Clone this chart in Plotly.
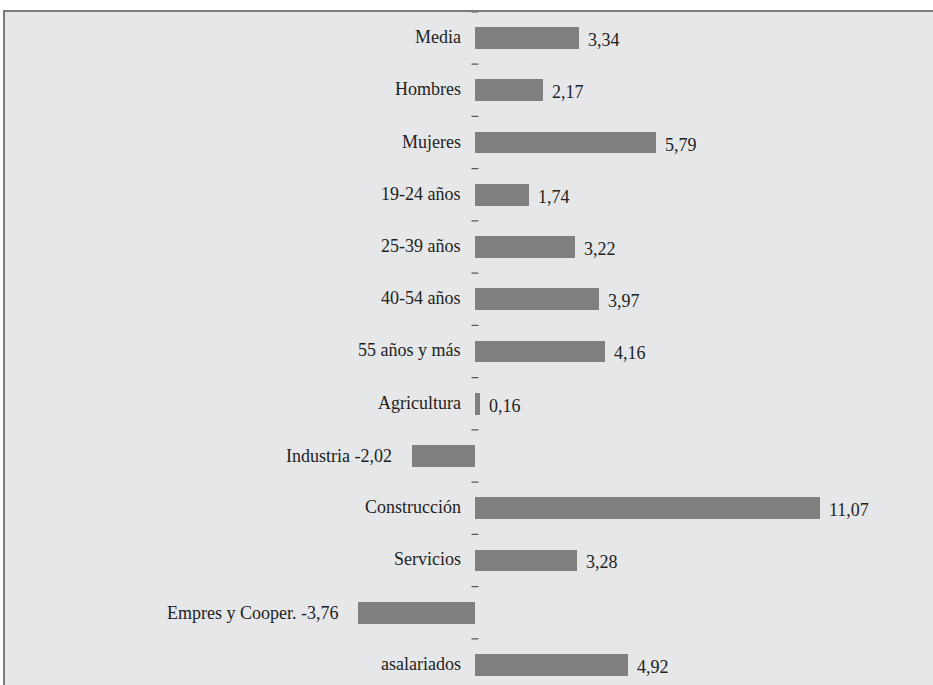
import plotly.graph_objects as go

categories = ["Media", "Hombres", "Mujeres", "19-24 años", "25-39 años", "40-54 años",
              "55 años y más", "Agricultura", "Industria", "Construcción", "Servicios",
              "Empres y Cooper.", "asalariados"]
values = [3.34, 2.17, 5.79, 1.74, 3.22, 3.97, 4.16, 0.16, -2.02, 11.07, 3.28, -3.76, 4.92]

def fmt(v):
    return f"{v:.2f}".replace(".", ",")

pos = list(range(len(categories)))
BAR = "#808080"
FONT = "Liberation Serif"
FS = 18

fig = go.Figure()
fig.add_trace(go.Bar(x=values, y=pos, orientation="h", width=0.42,
                     marker=dict(color=BAR, line=dict(width=0)), hoverinfo="skip"))
# small separator dashes between categories
mids = [p - 0.5 for p in pos]
fig.add_trace(go.Scatter(x=[0] * len(mids), y=mids, mode="markers",
                         marker=dict(symbol="line-ew", size=5,
                                     line=dict(color="#555555", width=1.2)),
                         hoverinfo="skip"))

annots = []
for p, c, v in zip(pos, categories, values):
    f = dict(family=FONT, size=FS, color="#222")
    if v >= 0:
        annots.append(dict(x=0, y=p, text=c, xanchor="right", xshift=-12, yshift=1,
                           showarrow=False, font=f))
        annots.append(dict(x=v, y=p, text=fmt(v), xanchor="left", xshift=7, yshift=-2,
                           showarrow=False, font=f))
    else:
        annots.append(dict(x=v, y=p, text=f"{c}&nbsp;{fmt(v)}", xanchor="right", xshift=-18,
                           showarrow=False, font=f))

fig.update_layout(
    width=933, height=685,
    margin=dict(l=5, r=0, t=12, b=0),
    paper_bgcolor="white", plot_bgcolor="#e6e7e9",
    showlegend=False, bargap=0,
    annotations=annots,
    xaxis=dict(range=[-15.06, 14.68], showgrid=False, zeroline=False,
               showticklabels=False, ticks="", side="top",
               showline=True, linecolor="#7a7a7a", linewidth=2),
    yaxis=dict(range=[12.383, -0.4976], showgrid=False, zeroline=False,
               showticklabels=False, ticks="",
               showline=True, linecolor="#7a7a7a", linewidth=1.5),
)
fig.write_html("out.html", config={"displayModeBar": False},
               post_script="document.body.style.margin='0';document.body.style.overflow='hidden';")
